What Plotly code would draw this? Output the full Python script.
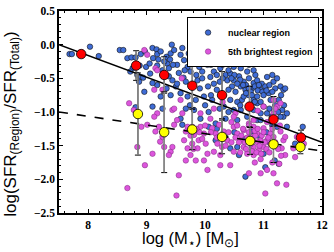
import plotly.graph_objects as go

# nuclear region (blue)
nuc_x = [7.68,7.72,8.03,8.18,8.54,8.60,8.67,8.74,8.81,8.76,8.88,8.72,8.84,8.90,8.94,8.87,8.96,8.90,8.97,8.99,8.81,
         9.10,9.10,9.17,9.18,9.24,9.05,9.11,9.18,9.27,9.35,9.34,9.41,9.43,9.47,9.38,9.38,9.44,9.34,9.18,9.24,9.41,9.50,9.27,9.10,9.06,
         9.52,9.58,9.61,9.64,9.70,9.72,9.63,9.52,9.58,9.67,9.70,9.74,9.58,9.67,
         9.81,9.87,9.90,9.92,9.95,9.87,9.91,9.98,9.84,9.81,9.92,
         10.01,10.06,10.00,10.04,10.09,10.05,10.15,10.21,10.15,10.20,10.12,10.06,10.18,
         10.37,10.26,10.35,10.38,10.43,10.49,10.49,10.55,10.58,10.46,10.40,10.52,10.43,10.32,10.49,10.35,
         10.61,10.66,10.69,10.72,10.75,10.63,10.66,10.75,10.80,10.83,10.86,10.89,10.83,10.89,10.95,10.97,11.03,11.06,11.09,11.12,11.00,10.95,
         11.17,11.20,11.23,11.29,11.34,11.37,11.26,11.32,11.34,11.23,11.40,11.67,11.54,11.19,11.26,11.03,10.69,10.55,10.58,11.00,
         10.79,10.89,10.72,10.83,10.61,10.55,10.18,10.43,9.87,9.72,9.61,10.06,
         10.75,10.83,10.61,10.43,10.58,11.15,10.89,11.06,11.14,11.29,11.40,
         10.70,10.75,10.78,10.85,10.90,10.92,10.98,11.00,10.80,10.70,10.85,10.95,11.05,11.10,11.15,10.65,10.60,10.55,10.50,10.45,10.40,
         10.30,10.25,10.20,9.95,9.85,9.75,9.65,9.55,9.45,9.40,9.30,9.20,10.10,10.30,10.10,10.00,10.25,10.40,10.55,10.60,11.20,11.25,11.35,
         11.30,11.10,10.95,10.50,10.65,10.90,11.05,11.10,10.35,10.20,11.15,10.80]
nuc_y = [-0.14,-0.14,-0.03,-0.17,-0.08,-0.08,-0.20,-0.19,-0.19,-0.35,-0.31,-0.40,-0.45,-0.48,-0.49,-0.55,-0.70,-0.14,-0.10,-0.33,-0.93,
         -0.92,-0.05,-0.07,-0.14,-0.10,-0.28,-0.20,-0.31,-0.38,-0.28,-0.18,-0.13,0.00,-0.08,-0.35,-0.47,-0.53,-0.65,-0.60,-0.77,-0.75,-0.62,-0.95,-0.57,-0.43,
         -0.30,-0.15,-0.05,-0.23,-0.33,-0.13,-0.49,-0.58,-0.72,-0.55,-0.77,-0.90,-1.10,-0.95,
         -0.18,-0.08,-0.33,-0.23,-0.40,-0.53,-0.65,-0.77,-0.82,-0.97,-1.10,
         -0.18,-0.10,-0.13,-0.30,-0.48,-0.62,-0.40,-0.28,-0.58,-0.67,-0.82,-1.00,-1.17,
         -0.18,-0.35,-0.45,-0.53,-0.43,-0.33,-0.53,-0.28,-0.47,-0.62,-0.67,-0.70,-0.82,-0.92,-0.97,-1.10,
         -0.62,-0.55,-0.67,-0.40,-0.50,-0.82,-0.77,-0.75,-0.65,-0.57,-0.45,-0.53,-0.82,-0.77,-0.67,-0.58,-0.62,-0.48,-0.72,-0.82,-0.92,-1.02,
         -0.55,-0.65,-0.50,-0.62,-0.67,-0.65,-0.82,-0.97,-1.07,-1.22,-1.22,-1.22,-1.47,-1.72,-1.77,-1.82,-1.96,-1.52,-1.64,-1.62,
         -1.29,-1.12,-1.07,-0.97,-0.97,-1.12,-1.42,-1.54,-1.27,-1.24,-1.19,-1.22,
         -0.30,-0.38,-0.35,-0.13,-0.25,-0.45,-0.87,-1.02,-1.07,-1.07,-1.02,
         -0.60,-0.65,-0.70,-0.62,-0.68,-0.60,-0.70,-0.75,-0.75,-0.72,-0.85,-0.85,-0.68,-0.60,-0.70,-0.60,-0.52,-0.58,-0.45,-0.50,-0.38,
         -0.50,-0.55,-0.45,-0.50,-0.45,-0.40,-0.38,-0.42,-0.30,-0.22,-0.25,-0.22,-0.30,-0.30,-0.75,-0.90,-0.95,-1.00,-0.85,-0.90,-0.90,-1.00,-0.90,
         -0.75,-0.95,-1.12,-1.30,-1.40,-1.35,-1.30,-1.45,-1.38,-1.25,-1.20,-1.50]

# 5th brightest region (magenta)
fifth_x = [8.67,8.70,8.78,8.84,8.97,8.91,9.01,8.96,9.15,9.13,9.18,9.13,9.21,9.15,9.27,9.23,9.30,9.10,9.41,9.44,9.38,9.51,9.55,
           9.47,9.52,9.44,9.61,9.58,9.67,9.64,9.70,9.75,9.67,9.84,9.87,9.78,9.89,9.81,9.92,9.98,10.01,10.04,9.98,10.04,
           10.15,10.21,10.18,10.12,10.24,10.32,10.38,10.29,10.26,10.43,10.26,10.09,9.92,10.15,
           10.52,10.49,10.55,10.61,10.66,10.49,10.72,10.66,10.75,10.83,10.89,10.95,11.00,10.83,10.78,10.92,11.06,11.12,11.17,11.00,11.06,
           11.23,11.17,11.29,11.34,11.31,11.37,11.37,11.27,11.23,11.39,11.03,10.95,11.06,11.17,10.75,10.83,11.54,11.51,11.63,11.57,11.69,
           11.17,11.29,10.83,10.49,9.78,9.70,9.47,9.18,9.27,9.01,
           10.62,10.68,10.72,10.78,10.82,10.86,10.90,10.93,10.97,11.02,11.05,11.08,11.12,10.70,10.80,10.88,10.96,11.00,10.85,10.75,10.65,
           10.58,10.52,10.45,10.40,10.35,10.30,10.20,10.10,10.00,9.95,9.90,9.85,9.80,9.75,10.60,10.55,10.45,10.75,10.90,11.15,11.20,11.25,
           11.28,11.10,10.95,10.85,11.15,11.30,9.60,10.30,11.20,11.00,10.90]
fifth_y = [-2.13,-0.87,-0.97,-1.52,-1.79,-1.22,-1.19,-0.08,-0.35,-0.67,-1.02,-1.07,-1.22,-1.29,-1.37,-1.44,-1.52,-1.62,-1.59,-1.52,-1.64,-2.24,-1.94,
           -1.19,-1.12,-0.97,-1.02,-0.82,-1.29,-1.42,-1.54,-1.64,-1.72,-1.72,-1.54,-1.47,-1.42,-1.34,-1.22,-1.32,-1.47,-1.62,-1.72,-1.86,
           -1.59,-1.47,-1.32,-1.24,-1.19,-1.29,-1.42,-1.52,-1.64,-1.79,-1.79,-1.10,-1.02,-0.95,
           -1.02,-1.22,-1.32,-1.42,-1.52,-1.59,-1.62,-1.27,-1.17,-1.22,-1.32,-1.42,-1.52,-1.52,-1.37,-1.57,-1.42,-1.32,-1.37,-1.24,-1.15,
           -0.92,-1.02,-1.29,-1.42,-1.54,-1.37,-1.64,-1.77,-2.06,-2.08,-2.21,-1.91,-1.86,-1.91,-1.91,-1.64,-1.67,-1.54,-1.42,-1.37,-1.47,
           -0.82,-0.87,-1.12,-1.07,-1.22,-1.22,-0.95,-0.38,-0.67,-0.15,
           -1.35,-1.45,-1.38,-1.48,-1.42,-1.35,-1.45,-1.50,-1.35,-1.45,-1.55,-1.38,-1.48,-1.55,-1.58,-1.60,-1.62,-1.30,-1.28,-1.30,-1.25,
           -1.45,-1.38,-1.45,-1.30,-1.50,-1.40,-1.38,-1.30,-1.20,-1.40,-1.30,-1.25,-1.55,-1.35,-1.60,-1.20,-1.15,-1.20,-1.25,-1.25,-1.45,-1.55,
           -1.20,-1.60,-1.70,-1.75,-1.75,-1.65,-0.50,-0.85,-0.95,-0.92,-0.98]

# binned medians
bin_x_red = [7.88, 8.82, 9.30, 9.78, 10.29, 10.76, 11.17, 11.64]
red_y = [-0.14, -0.31, -0.45, -0.61, -0.75, -0.92, -1.11, -1.38]
red_err = [0.05, 0.22, 0.27, 0.33, 0.35, 0.30, 0.34, 0.11]
bin_x_yel = [8.85, 9.30, 9.78, 10.29, 10.77, 11.17, 11.63]
yel_y = [-1.03, -1.30, -1.26, -1.37, -1.43, -1.48, -1.52]
yel_err = [0.61, 0.60, 0.30, 0.25, 0.20, 0.27, 0.10]

# fit lines
fit_x = [7.5, 12.0]
fit_solid_y = [0.0, -1.45]
fit_dash_y = [-1.0, -1.58]

fig = go.Figure()
fig.add_trace(go.Scatter(x=nuc_x, y=nuc_y, mode="markers", name="nuclear region",
                         marker=dict(size=5.5, color="#3f6cd6", line=dict(color="#111", width=0.6))))
fig.add_trace(go.Scatter(x=fifth_x, y=fifth_y, mode="markers", name="5th brightest region",
                         marker=dict(size=5.5, color="#dc55dc", line=dict(color="#7a2a7a", width=0.5))))
fig.add_trace(go.Scatter(x=fit_x, y=fit_solid_y, mode="lines", showlegend=False,
                         line=dict(color="black", width=1.6)))
fig.add_trace(go.Scatter(x=fit_x, y=fit_dash_y, mode="lines", showlegend=False,
                         line=dict(color="black", width=1.6, dash="dash")))
# error bars: black caps underneath, grey stems on top
for bx, by, be in [(bin_x_red, red_y, red_err), (bin_x_yel, yel_y, yel_err)]:
    fig.add_trace(go.Scatter(x=bx, y=by, mode="markers", showlegend=False, marker=dict(size=1, opacity=0),
                             error_y=dict(type="data", array=be, color="black", thickness=1, width=3)))
    fig.add_trace(go.Scatter(x=bx, y=by, mode="markers", showlegend=False, marker=dict(size=1, opacity=0),
                             error_y=dict(type="data", array=be, color="#888888", thickness=1.6, width=0)))
fig.add_trace(go.Scatter(x=bin_x_red, y=red_y, mode="markers", showlegend=False,
                         marker=dict(size=9.5, color="red", line=dict(color="black", width=0.8))))
fig.add_trace(go.Scatter(x=bin_x_yel, y=yel_y, mode="markers", showlegend=False,
                         marker=dict(size=9.5, color="#ffff00", line=dict(color="black", width=0.8))))

tickfont = dict(family="Liberation Serif", size=11.5, color="black", weight="bold")
fig.update_layout(
    width=334, height=252, margin=dict(l=59, r=12, t=11, b=39, autoexpand=False),
    plot_bgcolor="white", paper_bgcolor="white",
    legend=dict(x=0.487, y=0.97, xanchor="left", yanchor="top", bordercolor="black", borderwidth=1,
                bgcolor="white", font=dict(family="Liberation Sans", size=9, color="black", weight="bold"),
                tracegroupgap=0, itemwidth=30),
    xaxis=dict(range=[7.5, 12], dtick=1, tick0=8, ticks="inside", ticklen=4, tickcolor="black",
               showgrid=False, zeroline=False, showline=True, linecolor="black", linewidth=1.5, mirror="ticks",
               tickfont=tickfont, automargin=False, ticklabelstandoff=0,
               minor=dict(dtick=0.2, tick0=8, ticks="inside", ticklen=2, tickcolor="black")),
    yaxis=dict(range=[-2.5, 0.5], dtick=0.5, tickformat=".1f", ticks="inside", ticklen=4, tickcolor="black",
               showgrid=False, zeroline=False, showline=True, linecolor="black", linewidth=1.5, mirror="ticks",
               tickfont=tickfont, automargin=False,
               minor=dict(dtick=0.1, ticks="inside", ticklen=2, tickcolor="black")),
    annotations=[
        dict(text="log (M<sub>⋆</sub>) [M<sub>⊙</sub>]", xref="paper", yref="paper", x=0.5, y=-0.128,
             xanchor="center", yanchor="middle", showarrow=False,
             font=dict(family="Liberation Sans", size=16.5, color="black")),
        dict(text="log(SFR<sub>(Region)</sub>/SFR<sub>(Total)</sub>)", xref="paper", yref="paper", x=-0.18, y=0.44,
             xanchor="center", yanchor="middle", textangle=-90, showarrow=False,
             font=dict(family="Liberation Sans", size=17, color="black")),
    ],
)
fig.write_html("out.html", config={"displayModeBar": False},
               post_script="document.body.style.margin='0';document.body.style.overflow='hidden';")
